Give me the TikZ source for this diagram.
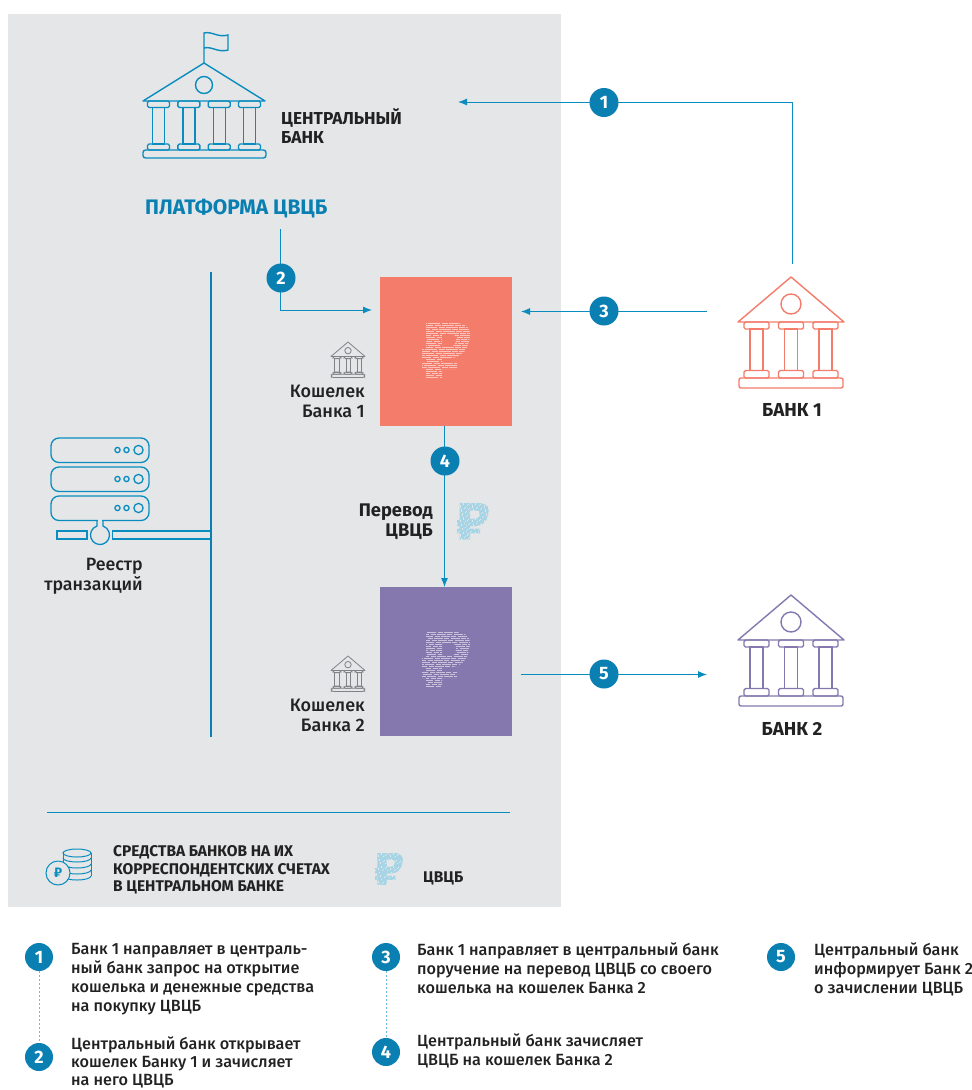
\documentclass[tikz,border=0pt]{standalone}
\usepackage{fontspec}
\setmainfont{Fira Sans}[BoldFont=Fira Sans Medium]
\newfontfamily\heavy{Fira Sans}
\usetikzlibrary{arrows.meta}
\definecolor{panel}{HTML}{E5E6E8}
\definecolor{flow}{HTML}{0A8DBE}
\definecolor{badgeblue}{HTML}{0A7FB2}
\definecolor{coral}{HTML}{F47C6A}
\definecolor{violet}{HTML}{8478AF}
\definecolor{ink}{HTML}{222222}
\definecolor{icongray}{HTML}{808285}
\definecolor{rubcyan}{HTML}{A8D5E5}
\tikzset{
  x=1pt,y=-1pt,
  flowline/.style={draw=flow,line width=1pt},
  flowarrow/.style={flowline,-{Latex[length=9pt,width=7pt]}},
  badge/.style={circle,fill=badgeblue,text=white,inner sep=0pt,minimum size=29pt,font=\heavy\fontsize{18}{18}\selectfont\bfseries},
  lab/.style={inner sep=0pt,text=ink,font=\fontsize{18}{20}\selectfont\bfseries},
  labr/.style={lab,align=right,anchor=north east},
  capslab/.style={inner sep=0pt,text=ink,font=\heavy\fontsize{17.3}{19.5}\selectfont\bfseries},
  legend/.style={inner sep=0pt,text=ink,align=left,anchor=north west,font=\heavy\fontsize{15.5}{17.5}\selectfont\bfseries},
  steptext/.style={inner sep=0pt,text=ink,align=left,anchor=north west,font=\fontsize{16.2}{19}\selectfont\bfseries},
}
\newcommand{\colone}[3]{%
  \draw[rounded corners=1.5pt] (#1-#2,45) rectangle (#1+#2,52);
  \draw (#1-6.5,52) rectangle (#1+6.5,93.5);
  \draw[rounded corners=1.5pt] (#1-#2,93.5) rectangle (#1+#2,101);
}
\newcommand{\bankthree}[5]{%
  \begin{scope}[shift={(#1,#2)},scale=#3,draw=#4,line width=#5]
    \draw[line join=round] (-53,45) -- (0,0) -- (53,45) -- cycle;
    \draw (0,27) circle[radius=10];
    \colone{-34.5}{12.5}{}\colone{0}{12.5}{}\colone{34.5}{12.5}{}
    \draw[rounded corners=2pt] (-52,101) rectangle (52,111);
  \end{scope}}
\newcommand{\rubpath}{(4,0) -- (32,0) .. controls (47,0) and (50,8) .. (47,18) .. controls (45,29) and (38,35) .. (28,35) -- (20,35) -- (20,39) -- (35,39) -- (35,46) -- (20,46) -- (20,55) -- (4,55) -- (4,46) -- (0,46) -- (0,39) -- (4,39) -- (4,35) -- (0,35) -- (0,26) -- (4,26) -- cycle
  (20,11) -- (28,11) .. controls (34,11) and (35,15) .. (34,18) .. controls (33,22) and (31,24) .. (27,24) -- (20,24) -- cycle}
\newcommand{\rubstripe}[6]{%
  \begin{scope}[shift={(#1,#2)},scale=#3]
    \begin{scope}[even odd rule]
      \clip \rubpath;
      \foreach \k in {0,...,28}{
        \pgfmathsetmacro{\ph}{mod(\k*7,11)}
        \draw[#4,line width=#5,dash pattern=#6,dash phase=\ph pt] (-1,\k*2+0.5) -- (50,\k*2+0.5);
      }
    \end{scope}
  \end{scope}}
\begin{document}
\begin{tikzpicture}
\useasboundingbox (0,0) rectangle (972,1090);
\fill[white] (0,0) rectangle (972,1090);
\fill[panel] (8,14) rectangle (561,907);
\fill[coral] (380,277) rectangle (512,426);
\fill[violet] (380,587) rectangle (512,736);

% central bank
\begin{scope}[shift={(204,63)},draw=flow,line width=1.4pt]
  \draw[line join=round] (-61,38) -- (0,0) -- (61,38) -- cycle;
  \draw (0,22) circle[radius=8.5];
  \foreach \d in {-45.5,-15.2,15.2,45.5}{
    \draw[rounded corners=1.5pt] (\d-11,38) rectangle (\d+11,44.5);
    \draw (\d-6,44.5) rectangle (\d+6,81);
    \draw[rounded corners=1.5pt] (\d-11,81) rectangle (\d+11,87);
  }
  \draw[rounded corners=2.5pt] (-61,87) rectangle (62,95);
  \draw (0,0) -- (0,-30) .. controls (8,-32) and (14,-25) .. (24,-28) -- (24,-13) .. controls (14,-10) and (8,-17) .. (0,-15);
\end{scope}
\node[capslab,align=left,anchor=north west] (cb) at (281,108) {ЦЕНТРАЛЬНЫЙ\\БАНК};
\node[inner sep=0pt,anchor=west,text=badgeblue,font=\heavy\fontsize{21}{22}\selectfont\bfseries] (plat) at (145,208.5) {ПЛАТФОРМА ЦВЦБ};

% banks
\bankthree{791}{277}{1}{coral}{1.4pt}
\bankthree{791}{595}{1}{violet}{1.4pt}
\bankthree{348}{342}{0.32}{icongray}{0.8pt}
\bankthree{348}{656}{0.32}{icongray}{0.8pt}
\node[capslab,font=\heavy\fontsize{18.8}{20}\selectfont\bfseries] (b1) at (792,410) {БАНК 1};
\node[capslab,font=\heavy\fontsize{18.8}{20}\selectfont\bfseries] (b2) at (792,729) {БАНК 2};
\node[labr] (k1) at (365,385) {Кошелек\\Банка 1};
\node[labr] (k2) at (365,699) {Кошелек\\Банка 2};
\node[labr,font=\heavy\fontsize{18.3}{20}\selectfont\bfseries] (per) at (433,504) {Перевод\\ЦВЦБ};
\node[labr,font=\fontsize{17.8}{19.5}\selectfont\bfseries] (reestr) at (143,558) {Реестр\\транзакций};

% rubles
\rubstripe{422}{323}{1}{white!55!coral}{1.5pt}{on 6pt off 1pt on 12pt off 1.5pt}
\rubstripe{422}{632}{1}{white!55!violet}{1.2pt}{on 5pt off 1.2pt on 9pt off 1.5pt}
\rubstripe{457}{503}{0.66}{rubcyan}{1.6pt}{on 2pt off 0.4pt}
\rubstripe{375}{853}{0.58}{rubcyan}{1.7pt}{on 2pt off 0.4pt}

% server
\begin{scope}[draw=flow,line width=1.3pt]
  \foreach \y in {438,467,496}{
    \draw[rounded corners=8pt] (51,\y) rectangle (149,\y+24.5);
    \draw (117.5,\y+12) circle[radius=2.6];
    \draw (126.5,\y+12) circle[radius=2.6];
    \draw (138.5,\y+12) circle[radius=4.6];
  }
  \fill[panel] (97.6,519) rectangle (102.4,522);
  \draw (97,520.5) -- (97,526) arc[start angle=251.6,end angle=-71.6,radius=9.5] -- (103,520.5);
  \draw (87,531) -- (57,531) -- (57,539) -- (87,539) -- cycle;
  \draw (210,531) -- (112.5,531) -- (112.5,539) -- (210,539);
\end{scope}
\coordinate (busT) at (211,272);
\coordinate (busB) at (211,737);
\draw[draw=badgeblue,line width=2.4pt] (busT) -- (busB);
\coordinate (sepL) at (47,812);
\coordinate (sepR) at (510,812);
\draw[flowline] (sepL) -- (sepR);

% connectors
\coordinate (s1) at (792.5,264);
\coordinate (e1) at (458,102);
\coordinate (s2) at (280.5,229);
\coordinate (e2) at (372,310);
\coordinate (s3) at (707,311.5);
\coordinate (e3) at (521,311.5);
\coordinate (s4) at (444.5,426);
\coordinate (e4) at (444.5,587);
\coordinate (s5) at (521,674.5);
\coordinate (e5) at (707,674.5);
\draw[flowarrow] (s1) |- (e1);
\draw[flowarrow] (s2) |- (e2);
\draw[flowarrow] (s3) -- (e3);
\draw[flowarrow] (s4) -- (e4);
\draw[flowarrow] (s5) -- (e5);
\node[badge] (n1) at (604,102.5) {1};
\node[badge] (n2) at (281,278) {2};
\node[badge] (n3) at (604,311) {3};
\node[badge] (n4) at (445,461) {4};
\node[badge] (n5) at (604,674) {5};

% coins
\begin{scope}[draw=flow,line width=1pt]
  \foreach \y in {858,864,870,876}{
    \draw (91,\y) arc[start angle=0,end angle=180,x radius=14,y radius=4];
  }
  \draw (77,853) ellipse[x radius=14,y radius=4];
  \draw (63,853) -- (63,862);
  \draw (91,853) -- (91,876);
  \draw[fill=panel] (58,873) circle[radius=12];
  \node[inner sep=0pt,text=flow,font=\heavy\fontsize{14}{14}\selectfont\bfseries] (rubsign) at (58,873) {₽};
\end{scope}
\node[legend] (leg1) at (113,845.5) {СРЕДСТВА БАНКОВ НА ИХ\\КОРРЕСПОНДЕНТСКИХ СЧЕТАХ\\В ЦЕНТРАЛЬНОМ БАНКЕ};
\node[legend] (leg2) at (423,872) {ЦВЦБ};

% steps
\node[badge,minimum size=28pt] (c1) at (39,957) {1};
\node[badge,minimum size=28pt] (c2) at (39,1057) {2};
\node[badge,minimum size=28pt] (c3) at (386,957) {3};
\node[badge,minimum size=28pt] (c4) at (386,1052) {4};
\node[badge,minimum size=28pt] (c5) at (781,957) {5};
\draw[flow!60,line width=1pt,dash pattern=on 2pt off 2pt] (c1) -- (c2);
\draw[flow!60,line width=1pt,dash pattern=on 2pt off 2pt] (c3) -- (c4);
\node[steptext] (t1) at (71,943) {Банк 1 направляет в централь-\\ный банк запрос на открытие\\кошелька и денежные средства\\на покупку ЦВЦБ};
\node[steptext,font=\fontsize{16.2}{18}\selectfont\bfseries] (t2) at (71,1036.5) {Центральный банк открывает\\кошелек Банку 1 и зачисляет\\на него ЦВЦБ};
\node[steptext] (t3) at (417,943) {Банк 1 направляет в центральный банк\\поручение на перевод ЦВЦБ со своего\\кошелька на кошелек Банка 2};
\node[steptext] (t4) at (417,1034) {Центральный банк зачисляет\\ЦВЦБ на кошелек Банка 2};
\node[steptext] (t5) at (814,943) {Центральный банк\\информирует Банк 2\\о зачислении ЦВЦБ};
\end{tikzpicture}
\end{document}
